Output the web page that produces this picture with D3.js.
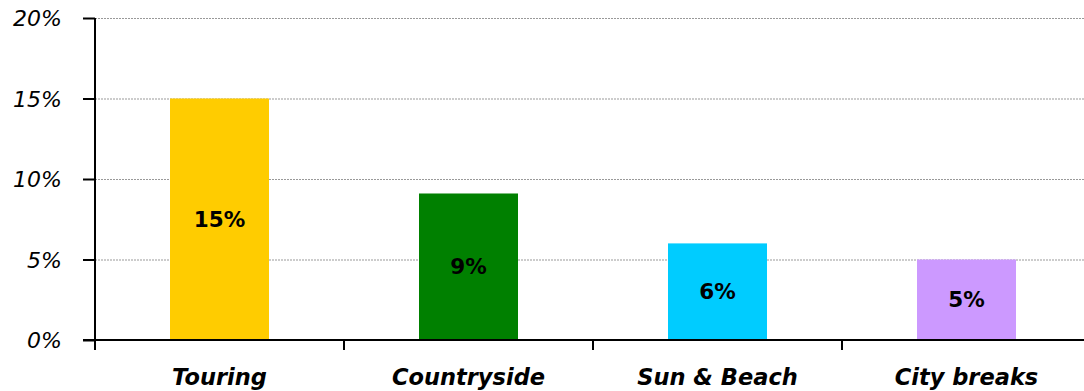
<!DOCTYPE html>
<html><head><meta charset="utf-8">
<script src="https://cdn.jsdelivr.net/npm/d3@7"></script>
<style>body{margin:0;background:#fff;overflow:hidden}</style>
</head><body>
<svg id="c" width="1084" height="391"></svg>
<script>
const categories = ["Touring","Countryside","Sun & Beach","City breaks"];
const values = [15.0, 9.1, 6.0, 5.0];
const labels = ["15%","9%","6%","5%"];
const colors = ["#FFCC00","#008000","#00CCFF","#CC99FF"];
const yTicks = [0,5,10,15,20];

const svg = d3.select("#c");
const xb = d3.scaleBand().domain(categories).range([95,1091]);
const y = d3.scaleLinear().domain([0,20]).range([340,18]);

// grid
svg.append("g").selectAll("line").data(yTicks.filter(d=>d>0)).join("line")
  .attr("x1",95).attr("x2",1084).attr("y1",d=>y(d)+0.5).attr("y2",d=>y(d)+0.5)
  .attr("stroke","#999").attr("stroke-width",1).attr("stroke-dasharray","2,1");

// bars
svg.append("g").selectAll("rect").data(values).join("rect")
  .attr("x",(d,i)=>xb(categories[i])+xb.bandwidth()/2-49.5)
  .attr("width",99)
  .attr("y",d=>y(d)).attr("height",d=>y(0)-y(d))
  .attr("fill",(d,i)=>colors[i]);

// data labels
svg.append("g").selectAll("text").data(values).join("text")
  .attr("x",(d,i)=>xb(categories[i])+xb.bandwidth()/2)
  .attr("y",d=>(y(d)+y(0))/2)
  .attr("dy","0.36em").attr("text-anchor","middle")
  .attr("font-family","DejaVu Sans").attr("font-weight","bold").attr("font-size",21.5)
  .attr("fill","#000")
  .text((d,i)=>labels[i]);

// y axis
const ya = d3.axisLeft(y).tickValues(yTicks).tickSize(12).tickFormat(d=>d+"%");
const gy = svg.append("g").attr("transform","translate(95,0)").call(ya);
gy.select(".domain").attr("stroke","#000").attr("stroke-width",2).attr("d","M0,18V350");
gy.selectAll(".tick line").attr("stroke","#000").attr("stroke-width",2);
gy.selectAll(".tick text").attr("x",-33).attr("dy","0.36em").attr("font-family","DejaVu Sans").attr("font-style","italic")
  .attr("font-size",22).attr("fill","#000");

// x axis
const xa = d3.axisBottom(xb).tickSize(0).tickFormat(d=>d);
const gx = svg.append("g").attr("transform","translate(0,340)").call(xa);
gx.select(".domain").attr("stroke","#000").attr("stroke-width",2).attr("d","M83,0H1091");
gx.selectAll(".tick text").attr("y",45).attr("dy",0).attr("font-family","DejaVu Sans")
  .attr("font-style","italic").attr("font-weight","bold").attr("font-size",22.5).attr("fill","#000");
// category boundary ticks
svg.append("g").selectAll("line").data(categories).join("line")
  .attr("x1",d=>xb(d)).attr("x2",d=>xb(d)).attr("y1",340).attr("y2",350)
  .attr("stroke","#000").attr("stroke-width",2);
</script>
</body></html>
